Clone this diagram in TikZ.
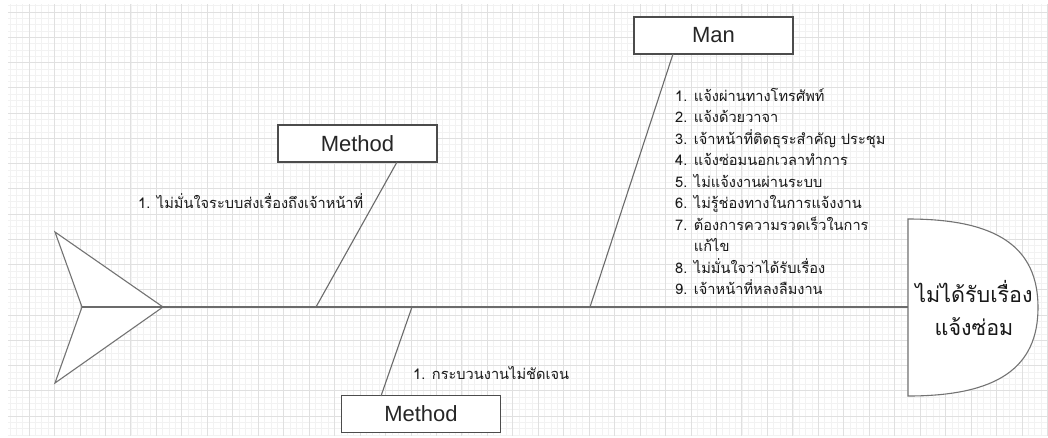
\documentclass[tikz,border=0pt]{standalone}
\usepackage{fontspec}
\setmainfont{Liberation Sans}
\newfontfamily\thai[Script=Thai]{Loma}
\begin{document}
\begin{tikzpicture}[x=1pt,y=-1pt,
  gridminor/.style={draw=black!5,line width=0.6pt},
  gridmajor/.style={draw=black!12,line width=0.8pt},
  bone/.style={draw=black!58,line width=1.1pt},
  catbox/.style={draw=black!70,line width=1.2pt,fill=white,minimum width=159pt,minimum height=37pt,inner sep=0pt,font=\fontsize{22}{26}\selectfont,text=black!85},
  cause/.style={inner sep=0pt,anchor=north west,align=left,text=black!90,font=\thai\fontsize{14.6}{21.5}\selectfont},
  shapeline/.style={draw=black!55,line width=1.1pt,fill=white}]
\useasboundingbox (0,0) rectangle (1048,437);
\fill[white] (0,0) rectangle (1048,437);

% background grid
\begin{scope}
  \clip (8,4) rectangle (1048,435);
  \foreach \i in {0,...,166} {
    \pgfmathsetmacro{\gx}{3.54+\i*6.365}
    \draw[gridminor] (\gx,0) -- (\gx,440);
  }
  \foreach \j in {0,...,72} {
    \pgfmathsetmacro{\gy}{-13.24+\j*6.3125}
    \draw[gridminor] (0,\gy) -- (1050,\gy);
  }
  \foreach \i in {0,...,42} {
    \pgfmathsetmacro{\gx}{3.54+\i*25.46}
    \draw[gridmajor] (\gx,0) -- (\gx,440);
  }
  \foreach \j in {0,...,18} {
    \pgfmathsetmacro{\gy}{-13.24+\j*25.25}
    \draw[gridmajor] (0,\gy) -- (1050,\gy);
  }
\end{scope}

% tail
\coordinate (notch) at (82,307);
\coordinate (tip) at (163,307);
\path[shapeline] (55,232) -- (tip) -- (55,383) -- (notch) -- cycle;

% head
\coordinate (headtop) at (908,219);
\coordinate (headbot) at (908,396);
\coordinate (headmid) at (908,307);
\path[shapeline] (headtop) .. controls (997,219) and (1038,247) .. (1038,307.5)
  .. controls (1038,368) and (997,396) .. (headbot) -- cycle;
\node[align=center,text=black!90,font=\thai\fontsize{21.5}{33}\selectfont] (effect) at (974,308) {ไม่ได้รับเรื่อง\\แจ้งซ่อม};

% spine
\draw[bone] (notch) -- (headmid);

% categories
\node[catbox] (man) at (713.5,35.5) {Man};
\node[catbox] (methodup) at (357.5,143.5) {Method};
\node[catbox] (methodlow) at (421,414) {Method};

% bones
\coordinate (manroot) at (673,54);
\coordinate (manjoin) at (590,307);
\coordinate (muproot) at (397,162);
\coordinate (mupjoin) at (316,307);
\coordinate (mlowroot) at (381,396);
\coordinate (mlowjoin) at (412,307);
\draw[bone] (manroot) -- (manjoin);
\draw[bone] (muproot) -- (mupjoin);
\draw[bone] (mlowroot) -- (mlowjoin);

% causes
\node[cause] (causeup) at (138,193) {1. ไม่มั่นใจระบบส่งเรื่องถึงเจ้าหน้าที่};
\node[cause] (causelow) at (413,366) {1. กระบวนงานไม่ชัดเจน};
\node[cause] (causeman) at (675,88) {1. แจ้งผ่านทางโทรศัพท์\\
2. แจ้งด้วยวาจา\\
3. เจ้าหน้าที่ติดธุระสำคัญ ประชุม\\
4. แจ้งซ่อมนอกเวลาทำการ\\
5. ไม่แจ้งงานผ่านระบบ\\
6. ไม่รู้ช่องทางในการแจ้งงาน\\
7. ต้องการความรวดเร็วในการ\\
\phantom{7. }แก้ไข\\
8. ไม่มั่นใจว่าได้รับเรื่อง\\
9. เจ้าหน้าที่หลงลืมงาน};
\end{tikzpicture}
\end{document}
